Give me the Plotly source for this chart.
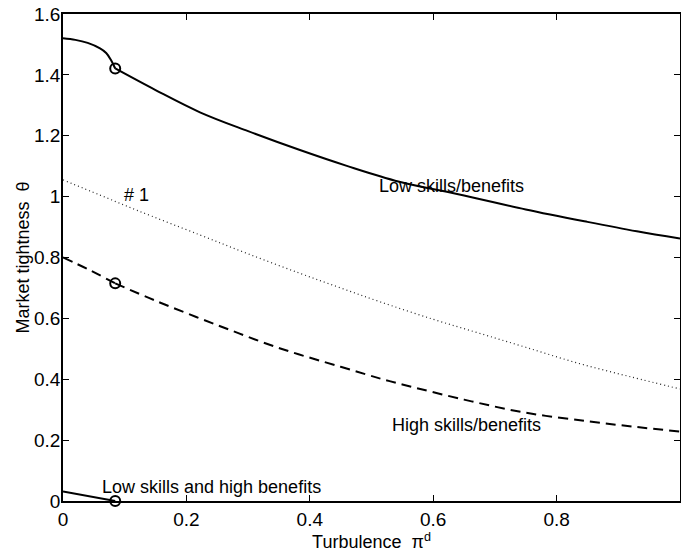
import plotly.graph_objects as go

# Low skills/benefits (solid); index 6 is the kink marked by a circle
low_x = [0, 0.02, 0.04, 0.06, 0.07, 0.078, 0.0846, 0.15, 0.222, 0.30, 0.384, 0.46, 0.545, 0.65, 0.75, 0.85, 0.93, 1.0]
low_y = [1.520, 1.515, 1.505, 1.487, 1.472, 1.448, 1.421, 1.350, 1.277, 1.215, 1.153, 1.101, 1.049, 1.004, 0.958, 0.917, 0.886, 0.862]
low_kink = 6

# #1 (dotted)
mid_x = [0, 0.06, 0.12, 0.222, 0.30, 0.384, 0.45, 0.513, 0.60, 0.675, 0.75, 0.836, 0.92, 1.0]
mid_y = [1.055, 1.005, 0.955, 0.874, 0.812, 0.748, 0.700, 0.655, 0.597, 0.551, 0.505, 0.452, 0.408, 0.368]

# High skills/benefits (dashed); index 2 is the kink
high_x = [0, 0.04, 0.0846, 0.15, 0.25, 0.351, 0.45, 0.513, 0.55, 0.65, 0.75, 0.85, 0.93, 1.0]
high_y = [0.800, 0.762, 0.715, 0.658, 0.578, 0.502, 0.441, 0.403, 0.383, 0.333, 0.290, 0.262, 0.243, 0.228]
high_kink = 2

# Low skills and high benefits (solid, short)
lowhigh_x = [0, 0.0846]
lowhigh_y = [0.031, 0]

# Circle markers
circ_x = [0.0846, 0.0846, 0.0846]
circ_y = [1.421, 0.715, 0]

# Text labels
label_text = ["Low skills/benefits", "# 1", "High skills/benefits", "Low skills and high benefits"]
label_x = [0.63, 0.119, 0.654, 0.24]
label_y = [1.035, 1.004, 0.25, 0.047]

xticks = [0, 0.2, 0.4, 0.6, 0.8, 1]
yticks = [0, 0.2, 0.4, 0.6, 0.8, 1, 1.2, 1.4, 1.6]

FONT = "Liberation Sans, Arial, Helvetica, sans-serif"

fig = go.Figure()
solid = dict(color="black", width=2)
dashed = dict(color="black", width=2, dash="10px,6px")
fig.add_trace(go.Scatter(x=low_x[:low_kink + 1], y=low_y[:low_kink + 1], mode="lines", line=solid, line_shape="spline"))
fig.add_trace(go.Scatter(x=low_x[low_kink:], y=low_y[low_kink:], mode="lines", line=solid, line_shape="spline"))
fig.add_trace(go.Scatter(x=mid_x, y=mid_y, mode="lines", line=dict(color="#222222", width=1.2, dash="1px,3px"), line_shape="spline"))
fig.add_trace(go.Scatter(x=high_x[:high_kink + 1], y=high_y[:high_kink + 1], mode="lines", line=dashed, line_shape="spline"))
fig.add_trace(go.Scatter(x=high_x[high_kink:], y=high_y[high_kink:], mode="lines", line=dashed, line_shape="spline"))
fig.add_trace(go.Scatter(x=lowhigh_x, y=lowhigh_y, mode="lines", line=solid))
fig.add_trace(go.Scatter(x=circ_x, y=circ_y, mode="markers", cliponaxis=False,
                         marker=dict(symbol="circle-open", size=10, color="black", line=dict(width=2))))

for t, x, y in zip(label_text, label_x, label_y):
    fig.add_annotation(x=x, y=y, text=t, showarrow=False, font=dict(size=18, color="black", family=FONT))

axis_common = dict(showline=True, linecolor="black", linewidth=1.5, mirror="ticks",
                   ticks="inside", ticklen=6, tickwidth=1, tickcolor="black",
                   showgrid=False, zeroline=False, automargin=False,
                   tickfont=dict(size=19, color="black", family=FONT))

fig.update_xaxes(range=[0, 1], tickvals=xticks, ticktext=[str(v) for v in xticks],
                 title=dict(text="Turbulence  π<sup>d</sup>", font=dict(size=18, color="black", family=FONT), standoff=0),
                 **axis_common)
fig.update_yaxes(range=[0, 1.6], tickvals=yticks, ticktext=[("%g" % v) for v in yticks],
                 ticklabelstandoff=-3,
                 title=dict(text="Market tightness  θ", font=dict(size=18, color="black", family=FONT), standoff=0),
                 **axis_common)

fig.update_layout(width=681, height=553, margin=dict(l=63, r=1, t=14, b=52),
                  paper_bgcolor="white", plot_bgcolor="white", showlegend=False)

fig.write_html("out.html", config={"displayModeBar": False},
               post_script="document.body.style.margin='0';document.body.style.overflow='hidden';")
